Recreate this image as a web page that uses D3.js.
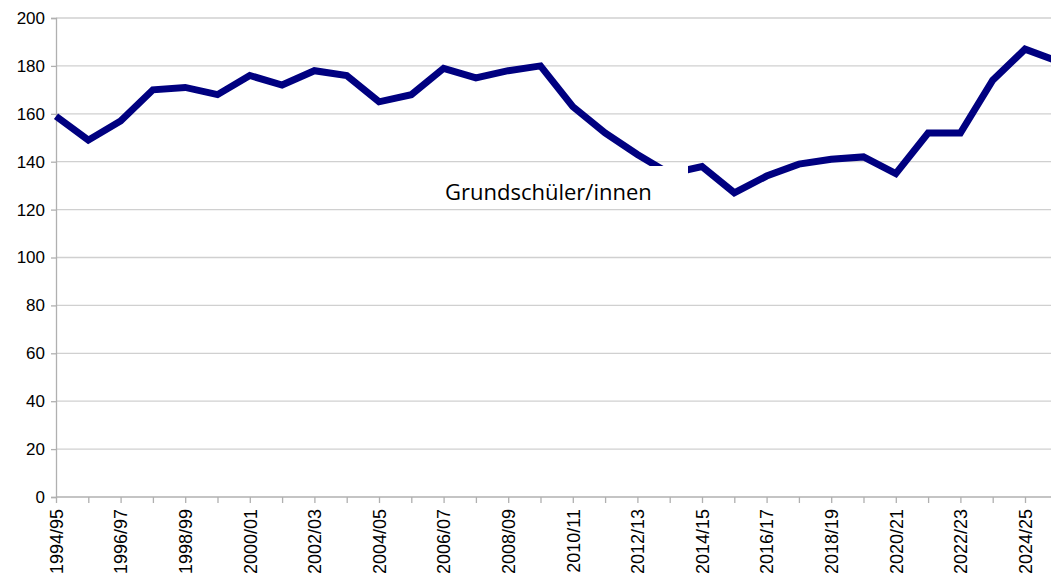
<!DOCTYPE html>
<html>
<head>
<meta charset="utf-8">
<script src="https://cdn.jsdelivr.net/npm/d3@7"></script>
<style>
html,body{margin:0;padding:0;background:#fff;overflow:hidden;}
</style>
</head>
<body>
<svg id="chart" width="1051" height="576"></svg>
<script>
const categories = ["1994/95","1995/96","1996/97","1997/98","1998/99","1999/00","2000/01","2001/02","2002/03","2003/04","2004/05","2005/06","2006/07","2007/08","2008/09","2009/10","2010/11","2011/12","2012/13","2013/14","2014/15","2015/16","2016/17","2017/18","2018/19","2019/20","2020/21","2021/22","2022/23","2023/24","2024/25","2025/26"];
const values = [159,149,157,170,171,168,176,172,178,176,165,168,179,175,178,180,163,152,143,135,138,127,134,139,141,142,135,152,152,174,187,182];
const yTicks = [0,20,40,60,80,100,120,140,160,180,200];
const seriesLabel = "Grundschüler/innen";

const svg = d3.select("#chart");
const x = d3.scalePoint().domain(categories).range([56, 1057.3]);
const y = d3.scaleLinear().domain([0, 200]).range([497, 18]);

// gridlines
svg.append("g").selectAll("line").data(yTicks.filter(d => d > 0)).join("line")
  .attr("x1", 56).attr("x2", 1060)
  .attr("y1", d => y(d)).attr("y2", d => y(d))
  .attr("stroke", "#d0d0d0").attr("stroke-width", 1.3);

// y axis
const yAxis = d3.axisLeft(y).tickValues(yTicks).tickSize(5).tickPadding(6);
const gy = svg.append("g").attr("transform", "translate(56,0)").call(yAxis);
gy.select(".domain").attr("stroke", "#b0b0b0").attr("stroke-width", 1.3);
gy.selectAll(".tick line").attr("stroke", "#b0b0b0").attr("stroke-width", 1.3);
gy.selectAll(".tick text").attr("font-family", "Liberation Sans, Arial, sans-serif").attr("font-size", 17).attr("fill", "#000");

// x axis
const xAxis = d3.axisBottom(x).tickSize(6).tickPadding(6)
  .tickFormat((d, i) => i % 2 === 0 ? d : "");
const gx = svg.append("g").attr("transform", "translate(0,497)").call(xAxis);
gx.select(".domain").attr("stroke", "#b0b0b0").attr("stroke-width", 1.3).attr("d", "M56,0H1060");
gx.selectAll(".tick line").attr("stroke", "#b0b0b0").attr("stroke-width", 1.3);
gx.selectAll(".tick text")
  .attr("font-family", "Liberation Sans, Arial, sans-serif").attr("font-size", 18).attr("fill", "#000")
  .attr("transform", "rotate(-90)")
  .attr("text-anchor", "end")
  .attr("x", -12).attr("y", 0).attr("dy", "0.35em");

// line
const line = d3.line().x((d, i) => x(categories[i])).y(d => y(d));
svg.append("path").datum(values)
  .attr("d", line)
  .attr("fill", "none")
  .attr("stroke", "#000080")
  .attr("stroke-width", 7)
  .attr("stroke-linejoin", "miter");

// label with white box
svg.append("rect").attr("x", 438).attr("y", 166).attr("width", 250).attr("height", 40).attr("fill", "#fff");
svg.append("text").attr("x", 445).attr("y", 200)
  .attr("font-family", "Open Sans, sans-serif").attr("font-size", 22).attr("fill", "#000")
  .text(seriesLabel);
</script>
</body>
</html>
